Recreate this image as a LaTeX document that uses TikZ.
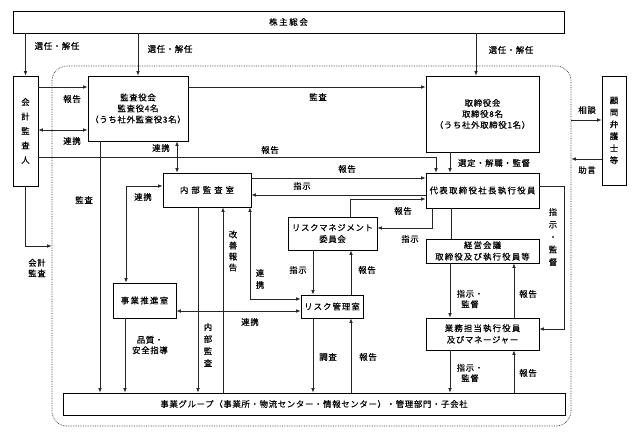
\documentclass[tikz,border=0pt]{standalone}
\usepackage{fontspec}
\setmainfont[LetterSpace=8,FakeBold=0.35]{Noto Sans CJK JP}
\usetikzlibrary{arrows.meta,calc}
\begin{document}
\begin{tikzpicture}[x=1pt,y=-1pt,
  font=\fontsize{8.4}{10}\selectfont,
  box/.style={draw=black,line width=0.8pt,align=center,inner sep=0pt},
  vtxt/.style={align=center,inner sep=0pt,font=\fontsize{8.4}{12}\selectfont},
  lbl/.style={align=center,inner sep=0pt,font=\fontsize{8.4}{10.5}\selectfont},
  arr/.style={draw=black!85,line width=0.7pt,-{Latex[length=4.5pt,width=3.6pt]}},
  darr/.style={draw=black!85,line width=0.7pt,{Latex[length=4.5pt,width=3.6pt]}-{Latex[length=4.5pt,width=3.6pt]}},
  ln/.style={draw=black!85,line width=0.7pt},
  zonestyle/.style={draw=black!80,line width=0.7pt,densely dotted,rounded corners=15pt,inner sep=0pt}
]
\useasboundingbox (0,0) rectangle (640,438);
\fill[white] (0,0) rectangle (640,438);

% dotted boundary
\node[zonestyle,minimum width=519pt,minimum height=360pt] (zone) at (311.5,246) {};

% boxes
\node[box,minimum width=551pt,minimum height=22pt] (top) at (288.5,22) {\addfontfeature{LetterSpace=20}株主総会};
\node[box,minimum width=25pt,minimum height=110pt,font=\fontsize{8.4}{14.5}\selectfont] (kaikei) at (25.5,131) {会\\計\\監\\査\\人};
\node[box,minimum width=100pt,minimum height=65pt,font=\fontsize{8.4}{11}\selectfont] (kansayaku) at (138,108.5) {監査役会\\監査役4名\\（うち社外監査役3名）};
\node[box,minimum width=113pt,minimum height=76pt,font=\fontsize{8.4}{11}\selectfont] (torishimari) at (482.5,114) {取締役会\\取締役8名\\（うち社外取締役1名）};
\node[box,minimum width=24pt,minimum height=109pt,font=\fontsize{8.4}{12}\selectfont] (komon) at (614,130.5) {顧\\問\\弁\\護\\士\\等};
\node[box,minimum width=88pt,minimum height=34pt] (naibu) at (207,190) {\addfontfeature{LetterSpace=36}内部監査室};
\node[box,minimum width=113pt,minimum height=35pt] (daihyo) at (482.5,190.5) {\addfontfeature{LetterSpace=16}代表取締役社長執行役員};
\node[box,minimum width=89pt,minimum height=33pt,font=\fontsize{8.4}{11.5}\selectfont] (riskcom) at (332.5,233.5) {リスクマネジメント\\委員会};
\node[box,minimum width=113pt,minimum height=24pt,font=\fontsize{8.4}{11.5}\selectfont] (keiei) at (482.5,251) {\addfontfeature{LetterSpace=14}経営会議\\\addfontfeature{LetterSpace=14}取締役及び執行役員等};
\node[box,minimum width=113pt,minimum height=32pt,font=\fontsize{8.4}{11.5}\selectfont] (gyomu) at (482.5,334) {\addfontfeature{LetterSpace=14}業務担当執行役員\\及びマネージャー};
\node[box,minimum width=63pt,minimum height=35pt] (suishin) at (144.5,300.5) {\addfontfeature{LetterSpace=16}事業推進室};
\node[box,minimum width=62pt,minimum height=23pt] (riskkanri) at (332,306.5) {\addfontfeature{LetterSpace=12}リスク管理室};
\node[box,minimum width=502pt,minimum height=22pt] (jigyo) at (314,404) {事業グループ（事業所・物流センター・情報センター）・管理部門・子会社};

% connectors
\draw[arr] (top.south -| kaikei.north) -- (kaikei.north);
\draw[arr] (top.south -| kansayaku.north) -- (kansayaku.north);
\draw[arr] (top.south -| 476,0) -- (torishimari.north -| 476,0);
\draw[arr] (kaikei.east |- 0,87) -- (kansayaku.west |- 0,87);
\draw[darr] (kaikei.east |- 0,130) -- (kansayaku.west |- 0,130);
\draw[arr] (kaikei.east |- 0,157) -| (daihyo.north -| 436,0);
\draw[arr] (kaikei.south) |- (zone.west |- 0,246);
\draw[arr] (kansayaku.east |- 0,87) -- (torishimari.west |- 0,87);
\draw[arr] (zone.east |- 0,120) -- (komon.west |- 0,120);
\draw[arr] (komon.west |- 0,159) -- (zone.east |- 0,159);
\draw[arr] (kansayaku.south -| 100,0) -- (jigyo.north -| 100,0);
\draw[darr] (kansayaku.south -| 177,0) -- (naibu.north -| 177,0);
\draw[darr] (naibu.west |- 0,186) -| (suishin.north -| 126,0);
\draw[arr] (suishin.south -| 125,0) -- (jigyo.north -| 125,0);
\draw[darr] (suishin.east |- 0,311) -- (riskkanri.west |- 0,311);
\draw[arr] (naibu.south -| 198,0) -- (jigyo.north -| 198,0);
\draw[arr] (jigyo.north -| 223,0) -- (naibu.south -| 223,0);
\draw[darr] (naibu.south -| 250,0) |- (riskkanri.west |- 0,299);
\draw[arr] (naibu.east |- 0,178) -- (daihyo.west |- 0,178);
\draw[arr] (daihyo.west |- 0,195) -- (naibu.east |- 0,195);
\draw[arr] (riskcom.north -| 350,0) |- (daihyo.west |- 0,199);
\draw[arr] (daihyo.south -| 432,0) |- (riskcom.east |- 0,228);
\draw[arr] (torishimari.south -| 450,0) -- (daihyo.north -| 450,0);
\draw[ln] (daihyo.south -| 451,0) -- (keiei.north -| 451,0);
\draw[arr] (daihyo.east |- 0,186) -- (564,186) |- (gyomu.east |- 0,329);
\draw[arr] (riskcom.south -| 313,0) -- (riskkanri.north -| 313,0);
\draw[arr] (riskkanri.north -| 351,0) -- (riskcom.south -| 351,0);
\draw[arr] (riskkanri.south -| 313,0) -- (jigyo.north -| 313,0);
\draw[arr] (jigyo.north -| 351,0) -- (riskkanri.south -| 351,0);
\draw[arr] (keiei.south -| 450,0) -- (gyomu.north -| 450,0);
\draw[arr] (gyomu.north -| 514,0) -- (keiei.south -| 514,0);
\draw[arr] (gyomu.south -| 450,0) -- (jigyo.north -| 450,0);
\draw[arr] (jigyo.north -| 514,0) -- (gyomu.south -| 514,0);

% labels
\node[lbl] (l1) at (57,46) {選任・解任};
\node[lbl] (l2) at (170,49) {選任・解任};
\node[lbl] (l3) at (511,50) {選任・解任};
\node[lbl] (l4) at (72,99) {報告};
\node[lbl] (l5) at (72,141) {連携};
\node[lbl] (l6) at (318,97) {監査};
\node[lbl] (l7) at (270,150) {報告};
\node[lbl] (l8) at (161,148) {連携};
\node[lbl] (l9) at (84,200) {監査};
\node[lbl] (l10) at (37,268) {会計\\監査};
\node[lbl] (l11) at (587,110) {相談};
\node[lbl] (l12) at (587,170) {助言};
\node[lbl] (l13) at (494,163) {選定・解職・監督};
\node[lbl] (l14) at (347,169) {報告};
\node[lbl] (l15) at (302,186) {指示};
\node[lbl] (l16) at (143,197) {連携};
\node[lbl] (l17) at (403,211) {報告};
\node[lbl] (l18) at (410,239) {指示};
\node[vtxt,font=\fontsize{8.4}{11}\selectfont] (l19) at (233,251) {改\\善\\報\\告};
\node[vtxt] (l20) at (260,279) {連\\携};
\node[lbl] (l21) at (298,270) {指示};
\node[lbl] (l22) at (367,270) {報告};
\node[vtxt,font=\fontsize{8.4}{12.5}\selectfont] (l23) at (553,237) {指\\示\\・\\監\\督};
\node[lbl] (l24) at (250,322) {連携};
\node[lbl] (l25) at (150,345) {品質・\\安全指導};
\node[vtxt] (l26) at (208,345) {内\\部\\監\\査};
\node[lbl] (l27) at (328,357) {調査};
\node[lbl] (l28) at (368,357) {報告};
\node[lbl] (l29) at (470,299) {指示・\\監督};
\node[lbl] (l30) at (528,294) {報告};
\node[lbl] (l31) at (470,373) {指示・\\監督};
\node[lbl] (l32) at (528,373) {報告};
\end{tikzpicture}
\end{document}
